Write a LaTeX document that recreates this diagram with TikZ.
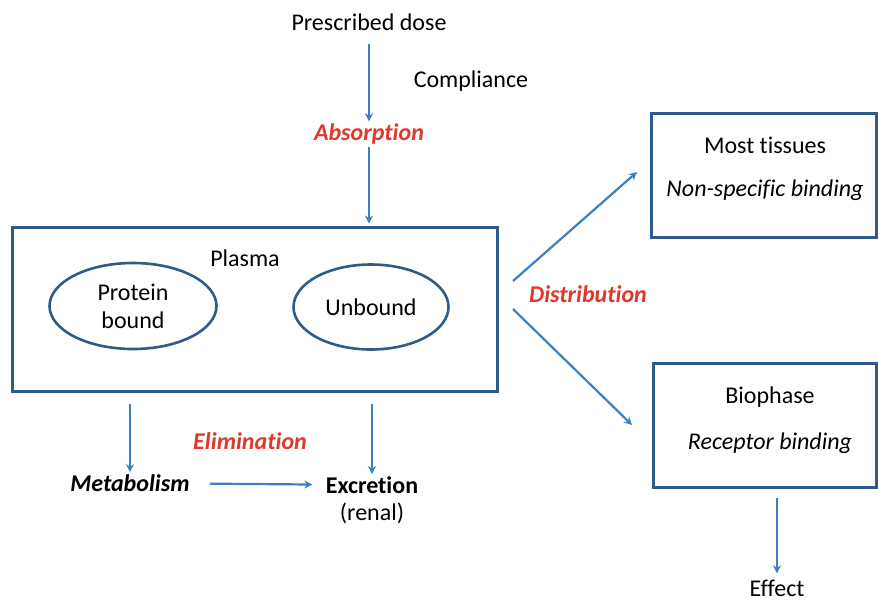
\documentclass[tikz,border=0pt]{standalone}
\usepackage{fontspec}
\setmainfont[Ligatures=NoCommon]{Carlito}
\usepackage{xcolor}
\usepackage{tikz}
\usetikzlibrary{positioning,arrows.meta,shapes.geometric}
\definecolor{arrowblue}{HTML}{3B7FC4}
\definecolor{boxblue}{HTML}{2E5B88}
\definecolor{labelred}{HTML}{E0382B}

\begin{document}
\begin{tikzpicture}[
  x=0.5pt, y=-0.5pt,
  node distance=2.5pt,
  txt/.style={font=\fontsize{12}{14}\selectfont, inner sep=1pt},
  proc/.style={txt, text=labelred, font=\fontsize{12}{14}\selectfont\bfseries\itshape},
  box/.style={draw=boxblue, line width=1.5pt, inner sep=0pt},
  oval/.style={ellipse, draw=boxblue, line width=1.3pt, txt, align=center},
  >={Stealth[length=4pt,width=4pt]},
  flow/.style={->, draw=arrowblue, line width=1.1pt}
]
  \useasboundingbox (0,0) rectangle (878,600);

  % --- dose and absorption
  \node[txt] (dose) at (369,22) {Prescribed dose};
  \node[txt] (compl) at (471,81) {Compliance};
  \node[proc] (absorb) at (369,134) {Absorption};

  % --- plasma
  \node[box, minimum width=242.5pt, minimum height=82pt] (plasma) at (254.5,309) {};
  \node[txt] (plasmalbl) at (245,258) {Plasma};
  \node[oval, minimum width=83.5pt, minimum height=43pt] (bound) at (133,306) {Protein\\bound};
  \node[oval, minimum width=77.5pt, minimum height=42.5pt] (unbound) at (371,307) {Unbound};

  \draw[flow, shorten <=5.5pt] (dose) -- (absorb);
  \draw[flow, shorten >=1pt] (absorb) -- (plasma.north -| absorb);

  % --- distribution
  \node[box, minimum width=112.5pt, minimum height=62pt] (tissues) at (763.5,175) {};
  \node[txt] (tissueslbl) at (765,145) {Most tissues};
  \node[txt, font=\fontsize{12}{14}\selectfont\itshape] (nonspec) at (765,190) {Non-specific binding};
  \node[box, minimum width=111.5pt, minimum height=62pt] (bio) at (764.5,425) {};
  \node[txt] (biolbl) at (770,397) {Biophase};
  \node[txt, font=\fontsize{12}{14}\selectfont\itshape] (receptor) at (770,443) {Receptor binding};
  \node[txt] (effect) at (777,588) {Effect};
  \node[proc] (distrib) at (588,294) {Distribution};

  \coordinate (dtop) at (513,281);
  \coordinate (dtopend) at (637,172);
  \coordinate (dbot) at (513,309);
  \coordinate (dbotend) at (632,425);
  \draw[flow] (dtop) -- (dtopend);
  \draw[flow] (dbot) -- (dbotend);
  \draw[flow, shorten <=4.5pt, shorten >=2pt] (bio.south -| effect) -- (effect);

  % --- elimination
  \node[txt, font=\fontsize{12}{14}\selectfont\bfseries\itshape] (metab) at (130,483) {Metabolism};
  \node[txt, font=\fontsize{12}{14}\selectfont\bfseries] (excr) at (372,485) {Excretion};
  \node[txt] (renal) [below=of excr] {(renal)};
  \node[proc] (elim) at (250,441) {Elimination};

  \draw[flow, shorten <=5.5pt] (plasma.south -| metab) -- (metab);
  \draw[flow, shorten <=5.5pt] (plasma.south -| excr) -- (excr);
  \draw[flow, shorten <=9pt, shorten >=5.5pt] (metab) -- (excr);
\end{tikzpicture}
\end{document}
